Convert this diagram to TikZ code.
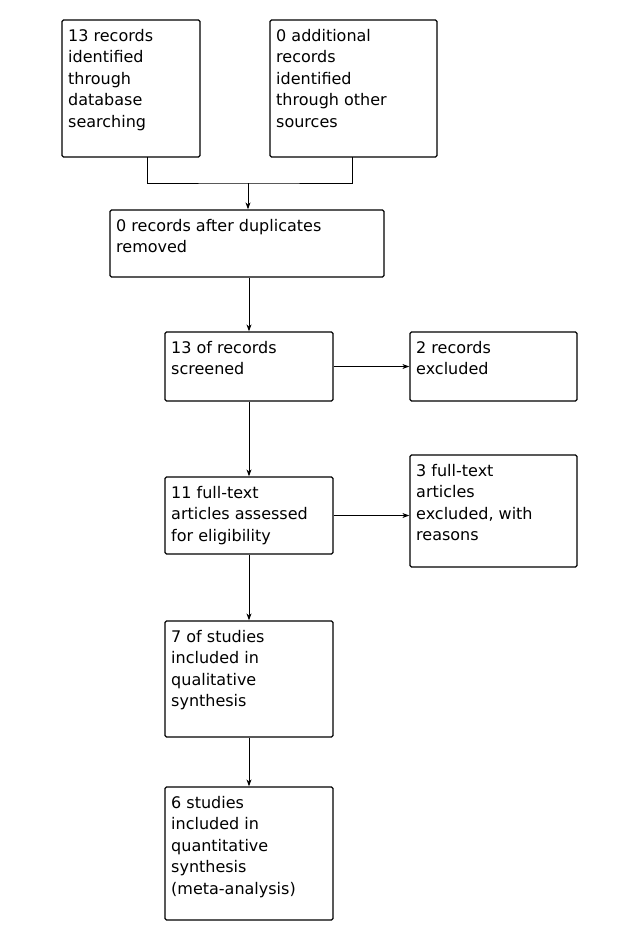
\documentclass[tikz,border=0pt]{standalone}
\usepackage{fontspec}
\setmainfont{DejaVu Sans}
\usetikzlibrary{arrows.meta}
\begin{document}
\begin{tikzpicture}[x=1pt,y=-1pt,
  box/.style={draw,line width=1.3pt,rounded corners=1.5pt,minimum width=#1,inner sep=0},
  txt/.style={anchor=north west,align=left,inner sep=0,font=\fontsize{16}{21.5}\selectfont},
  arr/.style={line width=1pt,-{Stealth[length=7pt,width=5pt]}},
  ln/.style={line width=1pt}]
\useasboundingbox (0,0) rectangle (641,937);
\newcommand{\bx}[6]{%
  \node[box=#4-#2pt,minimum height=#5-#3pt] (#1) at ({(#2+#4)/2},{(#3+#5)/2}) {};
  \node[txt] (#1t) at (#2+6,#3+9) {#6};}
\bx{a}{62}{20}{200}{157}{13 records\\identified\\through\\database\\searching}
\bx{b}{270}{20}{437}{157}{0 additional\\records\\identified\\through other\\sources}
\bx{c}{110}{210}{384}{277}{0 records after duplicates\\removed}
\bx{d}{165}{332}{333}{401}{13 of records\\screened}
\bx{e}{410}{332}{577}{401}{2 records\\excluded}
\bx{f}{165}{477}{333}{554}{11 full-text\\articles assessed\\for eligibility}
\bx{g}{410}{455}{577}{567}{3 full-text\\articles\\excluded, with\\reasons}
\bx{h}{165}{621}{333}{737}{7 of studies\\included in\\qualitative\\synthesis}
\bx{i}{165}{787}{333}{920}{6 studies\\included in\\quantitative\\synthesis\\(meta-analysis)}
\coordinate (j) at (248,183);
\coordinate (ja) at (147,157);
\coordinate (jb) at (352,157);
\draw[ln] (ja) |- (j) -| (jb);
\draw[arr] (j) -- (c.north -| j);
\draw[arr] (c.south -| d.north) -- (d.north);
\draw[arr] (d) -- (e);
\draw[arr] (d) -- (f);
\draw[arr] (f.east) -- (f.east -| g.west);
\draw[arr] (f) -- (h);
\draw[arr] (h) -- (i);
\end{tikzpicture}
\end{document}
